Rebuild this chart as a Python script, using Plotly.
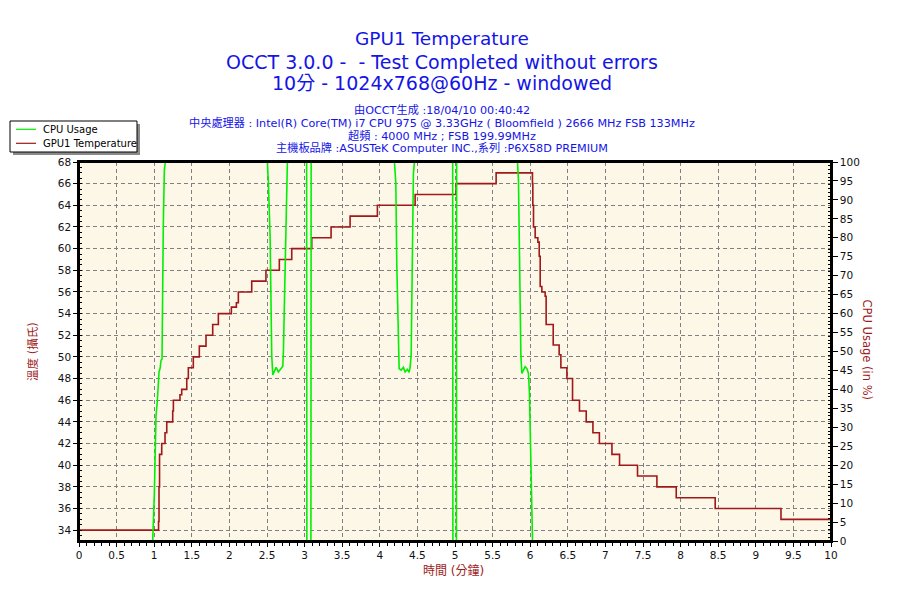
import plotly.graph_objects as go

# ---------------- data ----------------
# CPU usage (%), right axis
cpu_time = [0.0, 0.98, 1.002, 1.011, 1.024, 1.042, 1.047, 1.060, 1.064, 1.078, 1.091, 1.104,
            1.108, 1.121, 1.135, 1.148,
            2.505, 2.518, 2.541, 2.550, 2.563, 2.577, 2.594, 2.621, 2.651, 2.683, 2.710,
            2.718, 2.731, 2.744, 2.763, 2.771,
            3.027, 3.030, 3.084, 3.087,
            4.195, 4.204, 4.213, 4.226, 4.244, 4.257, 4.284, 4.314, 4.337, 4.367, 4.390,
            4.403, 4.417, 4.426, 4.439, 4.447, 4.461,
            4.969, 4.972, 5.019, 5.022,
            5.831, 5.844, 5.853, 5.867, 5.876, 5.889, 5.911, 5.933, 5.956, 5.977, 5.990,
            6.009, 6.022, 6.031, 10.0]
cpu_usage = [0, 0, 12.5, 27.5, 33, 37, 40, 42.4, 44.6, 45.5, 47.7, 48,
             60.5, 83.4, 97.9, 100,
             100, 94.8, 80.7, 62.7, 49, 43.8, 44.6, 45.8, 44.6, 45.5, 46.1,
             49.9, 63.1, 81.6, 95.2, 100,
             100, 0, 0, 100,
             100, 97.9, 94.4, 72.8, 49.9, 45.5, 45.1, 45.8, 44.6, 45.3, 44.5,
             45.9, 49, 65.7, 91.3, 97, 100,
             100, 0, 0, 100,
             100, 95.2, 81.6, 63.1, 49, 44.2, 45.2, 46, 45.5, 44.2, 38.9,
             21.3, 2.8, 0, 0]

# GPU1 temperature (deg C), left axis
temp_time = [0.0, 1.058, 1.064, 1.071, 1.100, 1.144, 1.167, 1.246, 1.255, 1.343, 1.366,
             1.433, 1.454, 1.520, 1.600, 1.689, 1.778, 1.853, 2.026, 2.093, 2.119, 2.297,
             2.486, 2.664, 2.829, 3.095, 3.352, 3.605, 3.968, 4.470, 5.015, 5.547,
             6.030, 6.035, 6.044, 6.066, 6.102, 6.120, 6.133, 6.155, 6.199, 6.212, 6.306,
             6.385, 6.408, 6.488, 6.563, 6.655, 6.745, 6.834, 6.920, 7.087, 7.188, 7.427,
             7.685, 7.942, 8.460, 9.335, 10.0]
temp_value = [34, 34.8, 38, 41, 42, 43, 44, 45, 46, 46.5, 47,
              48, 49, 50, 51, 52, 53, 54, 54.6, 55, 56, 57,
              58, 59, 60, 61, 62, 63, 64, 65, 66, 67,
              66, 64, 62, 61, 60.6, 59.3, 56.5, 56, 55.6, 53, 51.1,
              50.2, 49, 48, 46, 45, 44, 43, 42, 41, 40, 39,
              38, 37, 36, 35, 35]

series_names = ["CPU Usage", "GPU1 Temperature"]
title_lines = ["GPU1 Temperature",
               "OCCT 3.0.0 -  - Test Completed without errors",
               "10分 - 1024x768@60Hz - windowed"]
info_lines = ["由OCCT生成 :18/04/10 00:40:42",
              "中央處理器 : Intel(R) Core(TM) i7 CPU 975 @ 3.33GHz ( Bloomfield ) 2666 MHz FSB 133MHz",
              "超頻 : 4000 MHz ; FSB 199.99MHz",
              "主機板品牌 :ASUSTeK Computer INC.,系列 :P6X58D PREMIUM"]
x_title = "時間 (分鐘)"
y_title = "溫度 (攝氏)"
y2_title = "CPU Usage (in %)"

# ---------------- styling / layout ----------------
W, H = 900, 600
L, R, T, B = 79, 69, 162, 59
PW, PH = W - L - R, H - T - B

def px(xp):
    return (xp - L) / PW

def py(yp):
    return (H - B - yp) / PH

GREEN = "#00F000"
RED = "#A01818"
BLUE = "#1414E6"
TITLE_RED = "#9E1B1B"
FONT = "DejaVu Sans, Noto Sans CJK TC, sans-serif"

fig = go.Figure()
fig.add_trace(go.Scatter(x=cpu_time, y=cpu_usage, mode="lines", name=series_names[0],
                         yaxis="y2", line=dict(color=GREEN, width=1.6), showlegend=False))
fig.add_trace(go.Scatter(x=temp_time, y=temp_value, mode="lines", name=series_names[1],
                         line=dict(color=RED, width=1.6, shape="hv"), showlegend=False))

tickfont = dict(family=FONT, size=10.5, color="#111")

fig.update_layout(
    width=W, height=H,
    margin=dict(l=L, r=R, t=T, b=B),
    paper_bgcolor="white",
    plot_bgcolor="#FDF7E8",
    font=dict(family=FONT),
    xaxis=dict(range=[0, 10], dtick=0.5, tick0=0, showgrid=True, gridcolor="#808080",
               griddash="4px,3px", gridwidth=1, zeroline=False,
               showline=True, linecolor="black", linewidth=1.5, mirror=True,
               ticks="outside", ticklen=4, tickcolor="black", tickfont=tickfont,
               minor=dict(dtick=0.1, ticks="outside", ticklen=3, tickcolor="black", showgrid=False)),
    yaxis=dict(range=[33, 68], dtick=2, tick0=0, showgrid=True, gridcolor="#808080",
               griddash="4px,3px", gridwidth=1, zeroline=False,
               showline=True, linecolor="black", linewidth=1.5, mirror=True,
               ticks="outside", ticklen=4, tickcolor="black", tickfont=tickfont,
               minor=dict(dtick=0.5, ticks="inside", ticklen=3, tickcolor="black", showgrid=False)),
    yaxis2=dict(range=[0, 100], dtick=5, tick0=0, overlaying="y", side="right",
                showgrid=False, zeroline=False, showline=True, linecolor="black", linewidth=1.5,
                ticks="outside", ticklen=5, tickcolor="black", tickfont=tickfont,
                minor=dict(dtick=1, ticks="inside", ticklen=3, tickcolor="black", showgrid=False)),
    showlegend=False,
)

ann = []
# titles
for txt, yp, size in zip(title_lines, [38.3, 61.7, 83.3], [18.5, 19, 19]):
    ann.append(dict(text=txt, x=px(442), y=py(yp), xref="paper", yref="paper",
                    xanchor="center", yanchor="middle", showarrow=False,
                    font=dict(family=FONT, size=size, color=BLUE)))
for txt, yp in zip(info_lines, [110, 122.7, 136, 148.3]):
    ann.append(dict(text=txt, x=px(442), y=py(yp), xref="paper", yref="paper",
                    xanchor="center", yanchor="middle", showarrow=False,
                    font=dict(family=FONT, size=11.2, color=BLUE)))
# axis titles
ann.append(dict(text=x_title, x=px(453), y=py(570), xref="paper", yref="paper",
                xanchor="center", yanchor="middle", showarrow=False,
                font=dict(family=FONT, size=12, color=TITLE_RED)))
ann.append(dict(text=y_title, x=px(33), y=py(352), xref="paper", yref="paper",
                xanchor="center", yanchor="middle", showarrow=False, textangle=-90,
                font=dict(family=FONT, size=11.5, color=TITLE_RED)))
ann.append(dict(text=y2_title, x=px(866.5), y=py(350), xref="paper", yref="paper",
                xanchor="center", yanchor="middle", showarrow=False, textangle=90,
                font=dict(family=FONT, size=11.5, color=TITLE_RED)))
# legend texts
for txt, yp in zip(series_names, [129.3, 143.3]):
    ann.append(dict(text=txt, x=px(41), y=py(yp), xref="paper", yref="paper",
                    xanchor="left", yanchor="middle", showarrow=False,
                    font=dict(family=FONT, size=10, color="black")))

shapes = [
    # plot frame drawn over the traces (hides values sitting exactly on the border)
    dict(type="rect", xref="paper", yref="paper", x0=0, x1=1, y0=0, y1=1,
         fillcolor="rgba(0,0,0,0)", line=dict(color="black", width=2), layer="above"),
    # legend shadow
    dict(type="rect", xref="paper", yref="paper", x0=px(13), x1=px(140), y0=py(124), y1=py(155),
         fillcolor="#8a8a8a", line=dict(width=0), layer="above"),
    # legend box
    dict(type="rect", xref="paper", yref="paper", x0=px(10), x1=px(137), y0=py(121), y1=py(152),
         fillcolor="white", line=dict(color="black", width=1), layer="above"),
    # legend samples
    dict(type="line", xref="paper", yref="paper", x0=px(16), x1=px(36), y0=py(129.3), y1=py(129.3),
         line=dict(color=GREEN, width=1.2), layer="above"),
    dict(type="line", xref="paper", yref="paper", x0=px(16), x1=px(36), y0=py(143.3), y1=py(143.3),
         line=dict(color=RED, width=1.2), layer="above"),
]
fig.update_layout(annotations=ann, shapes=shapes)

fig.write_html("out.html", config={"displayModeBar": False},
               post_script="document.body.style.margin='0px';")
